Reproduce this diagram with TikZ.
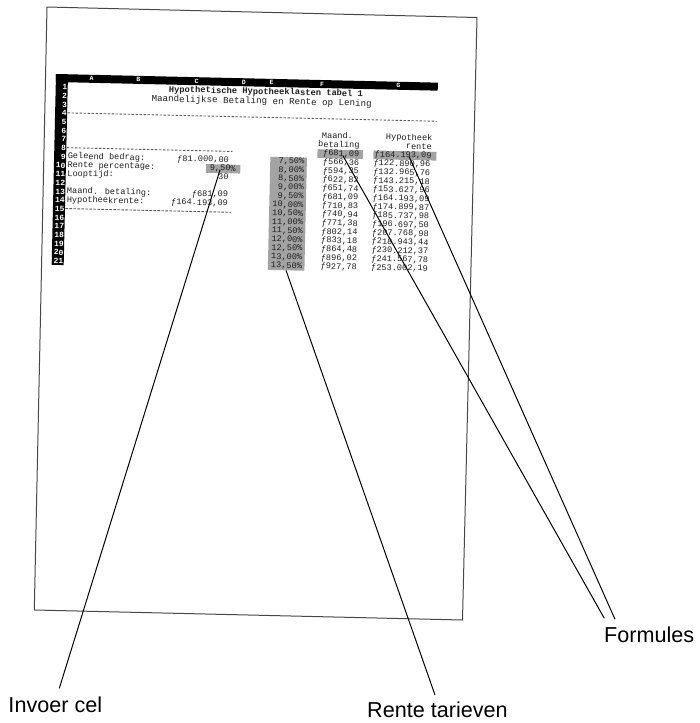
\documentclass[tikz,border=0pt]{standalone}
\usepackage{fontspec}
\setmainfont{Liberation Sans}
\newfontfamily\monof{Liberation Mono}
\newcommand\datarow[4]{%
  \node[num] (e#1) at (250.5,{12.5+8.7*(#1-1)}) {#2};
  \node[num] (f#1) at (305.3,{12.5+8.7*(#1-1)}) {ƒ#3};
  \node[num] (g#1) at (376.5,{12.5+8.7*(#1-1)}) {ƒ#4};}
\begin{document}
\begin{tikzpicture}[x=1pt,y=-1pt,
  pageline/.style={draw=black!72, line width=1pt, line join=round},
  callout/.style={draw=black, line width=1pt},
  lbl/.style={font=\fontsize{21.6}{24}\selectfont, inner sep=0pt, anchor=base west, text=black},
  cell/.style={font=\monof\fontsize{8.6}{10}\selectfont, inner sep=0pt, text height=6pt, text depth=1.5pt, text=black!88},
  num/.style={cell, anchor=east},
  txt/.style={cell, anchor=west},
  shade/.style={fill=black!36, draw=none, inner sep=0pt},
  colhead/.style={font=\monof\bfseries\fontsize{6.5}{7}\selectfont, text=white, inner sep=0pt},
  rowno/.style={font=\monof\bfseries\fontsize{8}{9}\selectfont, text=white, inner sep=0pt, anchor=east, text height=5.5pt, text depth=0pt},
  dashline/.style={draw=black!65, line width=0.9pt, dash pattern=on 2.6pt off 1.4pt},
]
\useasboundingbox (0,0) rectangle (700,723);

% the printed page
\draw[pageline] (47,7) -- (477,17.5) -- (462.5,620) -- (34.3,610) -- cycle;

% spreadsheet, slightly rotated on the page
\begin{scope}[shift={(56,74)}, rotate=-1.3, transform shape]
  \fill[black] (0,0) rectangle (382,8);
  \fill[black] (0,0) rectangle (12,190.85);
  \node[colhead] (ca) at (35.8,4) {A};
  \node[colhead] (cb) at (82.4,4) {B};
  \node[colhead] (cc) at (140.8,4) {C};
  \node[colhead] (cd) at (188,4) {D};
  \node[colhead] (ce) at (215.8,4) {E};
  \node[colhead] (cf) at (266.4,4) {F};
  \node[colhead] (cg) at (342.5,4) {G};
  \foreach \r in {1,...,21}
    \node[rowno] (r\r) at (11.8,{12.5+8.7*(\r-1)+0.4}) {\r};

  \node[cell, font=\monof\bfseries\fontsize{8.74}{10}\selectfont] (title) at (210.4,13.3) {Hypothetische Hypotheeklasten tabel 1};
  \node[cell, font=\monof\fontsize{9.17}{10}\selectfont] (subtitle) at (206.3,23) {Maandelijkse Betaling en Rente op Lening};

  \draw[dashline] (12.5,38.6) -- (382,38.6);
  \draw[dashline] (12.5,73.4) -- (178,73.4);
  \draw[dashline] (12.5,134.3) -- (178,134.3);

  % input block
  \node[txt] (l9) at (13.5,82.1) {Geleend bedrag:};
  \node[txt] (l10) at (13.5,90.8) {Rente percentage:};
  \node[txt] (l11) at (13.5,99.5) {Looptijd:};
  \node[txt] (l13) at (13.5,116.9) {Maand. betaling:};
  \node[txt] (l14) at (13.5,125.6) {Hypotheekrente:};
  \node[num] (v9) at (175,82.1) {ƒ81.000,00};
  \node[shade, minimum width=34.4pt, minimum height=8.7pt, anchor=north west] (inbox) at (151.8,86.45) {};
  \node[num] (v10) at (182,90.8) {9,50\%};
  \node[num] (v11) at (175,99.5) {30};
  \node[num] (v13) at (175,116.9) {ƒ681,09};
  \node[num] (v14) at (175,125.6) {ƒ164.193,09};

  % data table
  \node[num] (hf6) at (298.5,56.0) {Maand.};
  \node[num] (hf7) at (305.3,64.7) {betaling};
  \node[num] (hg6) at (378,56.0) {Hypotheek};
  \node[num] (hg7) at (377.5,64.7) {rente};
  \node[shade, minimum width=45.5pt, minimum height=8.7pt, anchor=north west] (fbox) at (263,69.05) {};
  \node[shade, minimum width=63pt, minimum height=8.7pt, anchor=north west] (gbox) at (319,69.05) {};
  \node[shade, minimum width=36.6pt, minimum height=113.1pt, anchor=north west] (ebox) at (216,77.75) {};
  \node[num] (f8) at (305.3,73.4) {ƒ681,09};
  \node[num] (g8) at (377.5,73.4) {ƒ164.193,09};
  \datarow{9}{7,50\%}{566,36}{122.890,96}
  \datarow{10}{8,00\%}{594,35}{132.965,76}
  \datarow{11}{8,50\%}{622,82}{143.215,18}
  \datarow{12}{9,00\%}{651,74}{153.627,96}
  \datarow{13}{9,50\%}{681,09}{164.193,09}
  \datarow{14}{10,00\%}{710,83}{174.899,87}
  \datarow{15}{10,50\%}{740,94}{185.737,98}
  \datarow{16}{11,00\%}{771,38}{196.697,50}
  \datarow{17}{11,50\%}{802,14}{207.768,98}
  \datarow{18}{12,00\%}{833,18}{218.943,44}
  \datarow{19}{12,50\%}{864,48}{230.212,37}
  \datarow{20}{13,00\%}{896,02}{241.567,78}
  \datarow{21}{13,50\%}{927,78}{253.002,19}

  \coordinate (invstart) at (166.2,92);
  \coordinate (fastart) at (288.9,75.5);
  \coordinate (fbstart) at (354.9,74.5);
\end{scope}

% callout labels
\node[lbl] (invoer) at (8.3,712) {Invoer cel};
\node[lbl] (rente) at (367,717.5) {Rente tarieven};
\node[lbl] (formules) at (604,642.3) {Formules};
\coordinate (invend) at (59.3,688.3);
\coordinate (rtend) at (435,695);
\coordinate (faend) at (604.3,618.3);
\coordinate (fbend) at (615,619.3);

\draw[callout] (invstart) -- (invend);
\draw[callout] (ebox.south) -- (rtend);
\draw[callout] (fastart) -- (faend);
\draw[callout] (fbstart) -- (fbend);
\end{tikzpicture}
\end{document}
